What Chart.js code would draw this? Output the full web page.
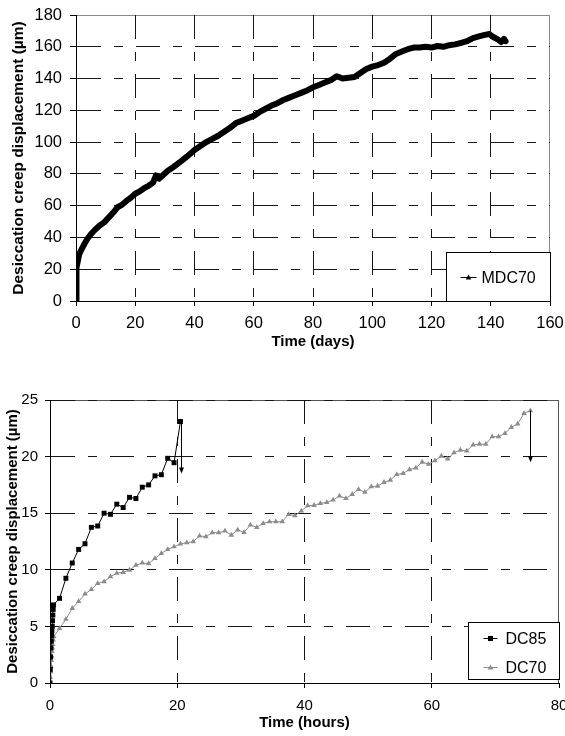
<!DOCTYPE html>
<html><head><meta charset="utf-8">
<script src="https://cdn.jsdelivr.net/npm/chart.js@4"></script>
<style>
html,body{margin:0;padding:0;background:#fff;overflow:hidden;width:565px;height:736px;}
#c1{position:absolute;left:0;top:0;}
#c2{position:absolute;left:0;top:380px;}
</style></head><body>
<canvas id="c1" width="565" height="360" style="width:565px;height:360px"></canvas>
<canvas id="c2" width="575" height="356" style="width:575px;height:356px"></canvas>
<script>
const FONT = "'Liberation Sans', Arial, Helvetica, sans-serif";

// ---------- Top chart: MDC70 (days) ----------
const mdcLabel = 'MDC70';
const mdcDays = [0,0.05,0.1,0.15,0.2,0.3,0.5,0.8,1.2,2,3,4,5,6.5,8,9.5,11,12.5,14,15.5,17,18.5,20,21.5,23,24.5,26,27,28,29.5,31,33,35.5,37.5,40,42,44,46,48,50,52,54,56,58,60,62,64,66,68,70,72,74,76,78,80,82,84,86,88,90,92,94,96,98,100,102,104,106,108,110,112,114,116,118,120,122,124,126,128,130,132,134,136,138,139.5,141,142.5,143.5,144.5,145];
const mdcDisp = [0,4,9,14,18,21,24,27,30,33,36.5,39.5,42,45,47.5,49.5,52.5,55.5,59,60.5,63,65,67.5,69,71,72.5,74.5,79,77,79.5,82,84.5,88,91,95,97.5,100,102,104,106.5,109,112,113.5,115,116.5,119,121,123,124.5,126.5,128,129.5,131,132.5,134.5,136,137.5,139,141.5,140,140.5,141,143.5,146,147.5,148.5,150,152.5,155.5,157,158.5,159.5,159.5,160,159.5,160.5,160,161,161.5,162.5,163.5,165.5,166.5,167.5,168,166,164.5,163,165,163.5];
const topXTicks = [0,20,40,60,80,100,120,140,160];
const topYTicks = [0,20,40,60,80,100,120,140,160,180];

// ---------- Bottom chart: DC85 / DC70 (hours) ----------
const dc85Label = 'DC85';
const dc85Hours = [0,0.05,0.1,0.15,0.2,0.25,0.3,0.35,0.4,0.45,0.5,0.55,1.5,2.5,3.5,4.5,5.5,6.5,7.5,8.5,9.5,10.5,11.5,12.5,13.5,14.5,15.5,16.5,17.5,18.5,19.5,20.5];
const dc85Disp = [0,1.2,2.3,3.1,3.7,4.2,4.6,5.0,5.5,6.0,6.5,6.9,7.48,9.25,10.6,11.8,12.3,13.75,13.87,15.0,14.9,15.8,15.5,16.4,16.3,17.3,17.5,18.3,18.4,19.85,19.46,23.1];
const dc70Label = 'DC70';
const dc70Hours = [0,0.05,0.1,0.15,0.2,0.25,0.3,0.35,0.4,0.5,0.6,1.5,2.5,3.5,4.5,5.5,6.5,7.5,8.5,9.5,10.5,11.5,12.5,13.5,14.5,15.5,16.5,17.5,18.5,19.5,20.5,21.5,22.5,23.5,24.5,25.5,26.5,27.5,28.5,29.5,30.5,31.5,32.5,33.5,34.5,35.5,36.5,37.5,38.5,39.5,40.5,41.5,42.5,43.5,44.5,45.5,46.5,47.5,48.5,49.5,50.5,51.5,52.5,53.5,54.5,55.5,56.5,57.5,58.5,59.5,60.5,61.5,62.5,63.5,64.5,65.5,66.5,67.5,68.5,69.5,70.5,71.5,72.5,73.5,74.5,75.5];
const dc70Disp = [0,0.5,1.0,1.5,2.0,2.4,2.8,3.1,3.4,3.8,4.1,4.83,5.63,6.6,7.2,7.86,8.27,8.8,8.95,9.4,9.7,9.78,9.98,10.4,10.6,10.55,11.0,11.45,11.8,12.04,12.28,12.4,12.48,12.99,12.93,13.28,13.28,13.43,13.07,13.52,13.31,13.96,13.75,14.1,14.25,14.25,14.25,14.9,14.78,15.2,15.66,15.7,15.87,15.96,16.17,16.52,16.3,16.67,17.1,16.85,17.34,17.4,17.73,17.93,18.43,18.52,18.85,19.0,19.52,19.33,19.64,20.05,19.79,20.34,20.58,20.5,21.03,21.11,21.1,21.76,21.76,22.05,22.59,22.88,23.82,24.06];
// drop arrows (hours, from, to)
const arrowHours = [20.6, 75.5];
const arrowFrom  = [23.1, 24.06];
const arrowTo    = [18.5, 19.5];
const botXTicks = [0,20,40,60,80];
const botYTicks = [0,5,10,15,20,25];

const toXY = (xs, ys) => xs.map((x, i) => ({x, y: ys[i]}));
const DASH = [24,13,9,13];
const GRID = '#151515';
const NONE = 'rgba(0,0,0,0)';

function plotBorder(color){
  return {id:'plotBorder', beforeDraw(chart){
    const {ctx, chartArea:a} = chart;
    ctx.save();
    ctx.fillStyle = '#fff'; ctx.fillRect(0,0,chart.width,chart.height);
    ctx.strokeStyle = color; ctx.lineWidth = 1;
    ctx.strokeRect(Math.round(a.left)+0.5, Math.round(a.top)+0.5, Math.round(a.right-a.left)-1, Math.round(a.bottom-a.top));
    ctx.restore();
  }};
}
function marker(ctx, style, x, y, color){
  ctx.fillStyle = color;
  ctx.beginPath();
  if (style === 'rect') { ctx.rect(x-2.5, y-2.5, 5, 5); }
  else { ctx.moveTo(x, y-3); ctx.lineTo(x+2.8, y+2); ctx.lineTo(x-2.8, y+2); ctx.closePath(); }
  ctx.fill();
}
function linearScale(ticksArr, fontSize, pad, extra){
  return Object.assign({
    type:'linear', min: ticksArr[0], max: ticksArr[ticksArr.length-1],
    afterBuildTicks: s => { s.ticks = ticksArr.map(v => ({value:v})); },
    ticks:{font:{size:fontSize, family:FONT}, color:'#000', padding:pad, maxRotation:0, autoSkip:false},
    border:{display:true, color:'#000', width:1, dash:DASH}
  }, extra);
}
const fixX = h => s => { s.height = h; s.paddingLeft = 0; s.paddingRight = 0; };
const fixY = w => s => { s.width = w; s.paddingTop = 0; s.paddingBottom = 0; };

// ---------- Top chart ----------
new Chart(document.getElementById('c1'), {
  type:'line',
  data:{datasets:[{label:mdcLabel, data:toXY(mdcDays, mdcDisp), borderColor:'#000', borderWidth:6,
    pointRadius:0, tension:0, borderJoinStyle:'round', borderCapStyle:'round', fill:false}]},
  options:{
    responsive:false, animation:false, devicePixelRatio:1,
    layout:{padding:{left:0, right:15, top:15, bottom:0}},
    plugins:{legend:{display:false}, tooltip:{enabled:false}},
    scales:{
      x: linearScale(topXTicks, 16.5, 8, {
        grid:{color:c => (c.tick && (c.tick.value===160 || c.tick.value===0)) ? NONE : GRID, tickColor:'#000', tickLength:5, lineWidth:1},
        title:{display:true, text:'Time (days)', color:'#000', font:{size:15, weight:'bold', family:FONT}, padding:{top:0, bottom:9}},
        afterFit: fixX(59)
      }),
      y: linearScale(topYTicks, 16.5, 8, {
        grid:{color:c => (c.tick && (c.tick.value===180 || c.tick.value===0)) ? NONE : GRID, tickColor:'#000', tickLength:6, lineWidth:1},
        title:{display:true, text:'Desiccation creep displacement (µm)', color:'#000', font:{size:15.5, weight:'bold', family:FONT}, padding:{top:9, bottom:0}},
        afterFit: fixY(76)
      })
    }
  },
  plugins:[plotBorder('#8a8a8a'), {id:'legendTop', afterDatasetsDraw(chart){
    const {ctx, chartArea:a} = chart;
    const w = 104, h = 49;
    const x = Math.round(a.right) - w + 0.5, y = Math.round(a.bottom) - h + 0.5;
    ctx.save();
    ctx.fillStyle = '#fff'; ctx.fillRect(x, y, w, h);
    ctx.strokeStyle = '#000'; ctx.lineWidth = 1; ctx.strokeRect(x, y, w, h);
    const cy = Math.round(y + 24) + 0.5;
    ctx.beginPath(); ctx.moveTo(x+14, cy); ctx.lineTo(x+30, cy); ctx.stroke();
    marker(ctx, 'triangle', x+22, cy, '#000');
    ctx.font = '16px ' + FONT; ctx.fillStyle = '#000'; ctx.textBaseline = 'middle';
    ctx.fillText(chart.data.datasets[0].label, x+35, cy+1);
    ctx.restore();
  }}]
});

// ---------- Bottom chart ----------
new Chart(document.getElementById('c2'), {
  type:'line',
  data:{datasets:[
    {label:dc85Label, data:toXY(dc85Hours, dc85Disp), borderColor:'#000', backgroundColor:'#000', borderWidth:1,
      pointStyle:'rect', pointRadius:3.5, pointBorderWidth:0, tension:0, fill:false},
    {label:dc70Label, data:toXY(dc70Hours, dc70Disp), borderColor:'#8c8c8c', backgroundColor:'#8c8c8c', borderWidth:1,
      pointStyle:'triangle', pointRadius:3.2, pointBorderWidth:0, tension:0, fill:false}
  ]},
  options:{
    responsive:false, animation:false, devicePixelRatio:1,
    layout:{padding:{left:0, right:16, top:20, bottom:0}},
    plugins:{legend:{display:false}, tooltip:{enabled:false}},
    scales:{
      x: linearScale(botXTicks, 15, 9, {
        grid:{color:c => (c.tick && (c.tick.value===80 || c.tick.value===0)) ? NONE : GRID, tickColor:'#000', tickLength:5, lineWidth:1},
        title:{display:true, text:'Time (hours)', color:'#000', font:{size:15, weight:'bold', family:FONT}, padding:{top:0, bottom:4}},
        afterFit: fixX(53)
      }),
      y: linearScale(botYTicks, 15, 7, {
        grid:{color:c => (c.tick && c.tick.value===0) ? NONE : GRID, tickColor:'#000', tickLength:5, lineWidth:1},
        title:{display:true, text:'Desiccation creep displacement (µm)', color:'#000', font:{size:15, weight:'bold', family:FONT}, padding:{top:4, bottom:0}},
        afterFit: fixY(50)
      })
    }
  },
  plugins:[plotBorder('#555'), {id:'arrowsLegend', afterDatasetsDraw(chart){
    const {ctx, chartArea:a, scales:{x:xs, y:ys}} = chart;
    ctx.save();
    ctx.strokeStyle = '#000'; ctx.fillStyle = '#000'; ctx.lineWidth = 1;
    arrowHours.forEach((h, i) => {
      const px = Math.round(xs.getPixelForValue(h)) + 0.5;
      const y1 = ys.getPixelForValue(arrowFrom[i]);
      const y2 = ys.getPixelForValue(arrowTo[i]);
      ctx.beginPath(); ctx.moveTo(px, y1); ctx.lineTo(px, y2 - 5); ctx.stroke();
      ctx.beginPath(); ctx.moveTo(px - 2.5, y2 - 6); ctx.lineTo(px + 2.5, y2 - 6); ctx.lineTo(px, y2); ctx.closePath(); ctx.fill();
    });
    // legend
    const w = 91, h = 57;
    const x = Math.round(a.right) - w + 0.5, y = Math.round(a.bottom) - 4 - h + 0.5;
    ctx.fillStyle = '#fff'; ctx.fillRect(x, y, w, h);
    ctx.strokeStyle = '#000'; ctx.strokeRect(x, y, w, h);
    const rows = [{ds:0, style:'rect', color:'#000', dy:15}, {ds:1, style:'triangle', color:'#8c8c8c', dy:44}];
    ctx.font = '16px ' + FONT; ctx.textBaseline = 'middle';
    rows.forEach(r => {
      const cy = Math.round(y + r.dy) + 0.5;
      ctx.strokeStyle = r.color; ctx.beginPath(); ctx.moveTo(x+15, cy); ctx.lineTo(x+29, cy); ctx.stroke();
      marker(ctx, r.style, x+22, cy, r.color);
      ctx.fillStyle = '#000'; ctx.fillText(chart.data.datasets[r.ds].label, x+37, cy+1);
    });
    ctx.restore();
  }}]
});
</script>
</body></html>
